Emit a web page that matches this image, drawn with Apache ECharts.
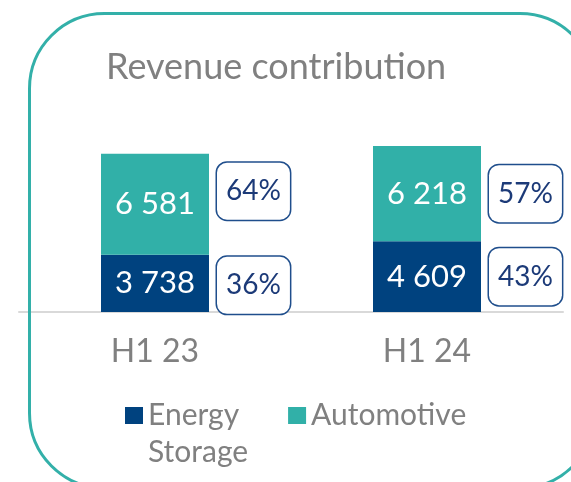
<!DOCTYPE html>
<html>
<head>
<meta charset="utf-8">
<title>Revenue contribution</title>
<script src="https://cdn.jsdelivr.net/npm/echarts@6/dist/echarts.min.js"></script>
<style>
  html, body { margin: 0; padding: 0; background: #fff; }
  #main { width: 571px; height: 482px; }
</style>
</head>
<body>
<div id="main"></div>
<script>
// 收入构成 - 数据
var categories = ['H1 23', 'H1 24'];
var energyStorage = [3738, 4609];
var automotive = [6581, 6218];
var energyPct = [36, 43];
var automotivePct = [64, 57];

var FONT = 'Lato';
var NAVY = '#00427f';
var TEAL = '#31b0a8';
var GREY = '#808080';

function fmtNum(v) {
  return String(v).replace(/\B(?=(\d{3})+(?!\d))/g, ' ');
}

var myChart = echarts.init(document.getElementById('main'), null, { renderer: 'canvas' });

// 百分比小框
var pctLabel = {
  show: true,
  position: 'right',
  distance: 8,
  fontFamily: FONT,
  fontSize: 28,
  lineHeight: 31,
  color: '#1c3a78',
  backgroundColor: '#fff',
  borderColor: '#1f4e8c',
  borderWidth: 1.5,
  borderRadius: 10,
  padding: [13, 9]
};

var option = {
  animation: false,
  title: {
    text: 'Revenue contribution',
    left: 106,
    top: 49,
    padding: 0,
    textStyle: { fontFamily: FONT, fontSize: 36, fontWeight: 'normal', color: GREY }
  },
  legend: {
    data: ['Energy Storage', 'Automotive'],
    left: 125,
    top: 360,
    padding: 0,
    icon: 'rect',
    itemWidth: 18,
    itemHeight: 17,
    itemGap: 40,
    formatter: function (name) {
      // 空的第一行让 "Energy" 与图标对齐
      return name === 'Energy Storage' ? '\nEnergy\nStorage' : name;
    },
    textStyle: { fontFamily: FONT, fontSize: 30, lineHeight: 37, color: GREY }
  },
  grid: { left: 19, right: 8, top: 128, bottom: 170, containLabel: false },
  xAxis: {
    type: 'category',
    data: categories,
    axisTick: { show: false },
    axisLine: { lineStyle: { color: '#d9d9d9', width: 2 } },
    axisLabel: { fontFamily: FONT, fontSize: 32, color: GREY, margin: 24 }
  },
  yAxis: {
    type: 'value',
    min: 0,
    max: 12000,
    show: false,
    splitLine: { show: false }
  },
  graphic: [{
    type: 'rect',
    z: 100,
    silent: true,
    shape: { x: 29.5, y: 13.5, width: 565.5, height: 474.5, r: 75 },
    style: { fill: 'none', stroke: '#33b0a9', lineWidth: 3 }
  }],
  series: [
    {
      name: 'Energy Storage',
      type: 'bar',
      stack: 'rev',
      barWidth: 108,
      barGap: '-100%',
      itemStyle: { color: NAVY },
      label: {
        show: true, position: 'inside', fontFamily: FONT, fontSize: 31, color: '#fff',
        formatter: function (p) { return fmtNum(p.value); }
      },
      data: energyStorage
    },
    {
      name: 'Automotive',
      type: 'bar',
      stack: 'rev',
      barWidth: 108,
      barGap: '-100%',
      itemStyle: { color: TEAL },
      label: {
        show: true, position: 'inside', fontFamily: FONT, fontSize: 31, color: '#fff',
        formatter: function (p) { return fmtNum(p.value); }
      },
      data: automotive
    },
    // 透明叠加柱，只用来放百分比标签
    {
      name: 'pctEnergy',
      type: 'bar',
      stack: 'pct',
      barWidth: 108,
      barGap: '-100%',
      itemStyle: { color: 'rgba(0,0,0,0)' },
      label: Object.assign({}, pctLabel, {
        formatter: function (p) { return energyPct[p.dataIndex] + '%'; }
      }),
      data: energyStorage.map(function (v, i) {
        return i === 0 ? { value: v, label: { offset: [0, 2] } } : v;
      })
    },
    {
      name: 'pctAutomotive',
      type: 'bar',
      stack: 'pct',
      barWidth: 108,
      barGap: '-100%',
      itemStyle: { color: 'rgba(0,0,0,0)' },
      label: Object.assign({}, pctLabel, {
        formatter: function (p) { return automotivePct[p.dataIndex] + '%'; }
      }),
      data: automotive.map(function (v, i) {
        return i === 0 ? { value: v, label: { offset: [0, -13] } } : v;
      })
    }
  ]
};

myChart.setOption(option);
window.onresize = function () {
  myChart.resize();
};
</script>
</body>
</html>
